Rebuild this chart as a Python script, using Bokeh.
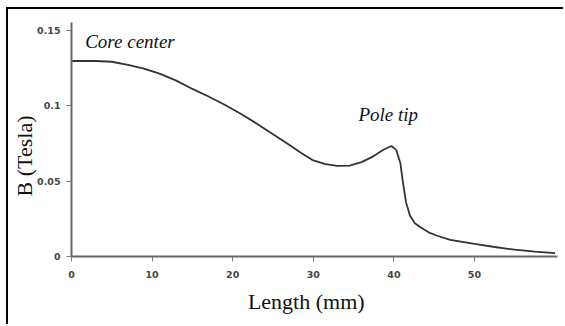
from bokeh.plotting import figure
from bokeh.models import Label, FixedTicker, Range1d
from bokeh.embed import file_html
from bokeh.resources import INLINE

# Data
length_mm = [0, 3, 5, 7, 9, 11, 13, 15, 17, 19, 21, 23, 25, 27, 28.5, 30, 31.5, 33, 34.5,
             36, 37.5, 38.7, 39.7, 40.3, 40.8, 41.1, 41.5, 42, 42.6, 43.3, 44.3, 45.3, 47,
             50, 52.5, 55, 57.5, 60]
b_tesla = [0.1295, 0.1295, 0.1290, 0.127, 0.1245, 0.121, 0.1165, 0.111, 0.106, 0.1005,
           0.0945, 0.088, 0.081, 0.074, 0.0685, 0.0636, 0.0612, 0.0600, 0.0602,
           0.0625, 0.0665, 0.0707, 0.0732, 0.0705, 0.062, 0.050, 0.036, 0.027, 0.022,
           0.0194, 0.016, 0.0139, 0.011, 0.0084, 0.0063, 0.0045, 0.0032, 0.0022]
x_ticks = [0, 10, 20, 30, 40, 50]
y_ticks = [0, 0.05, 0.1, 0.15]
y_tick_labels = {0: "0", 0.05: "0.05", 0.1: "0.1", 0.15: "0.15"}

NB = "\u00a0"

p = figure(width=557, height=317, output_backend="svg", toolbar_location=None,
           x_range=Range1d(0, 60.3), y_range=Range1d(0, 0.155),
           min_border_left=63, min_border_top=13, min_border_right=8, min_border_bottom=70,
           x_axis_label="Length (mm)" + NB * 3, y_axis_label="B (Tesla)" + NB * 6,
           styles={"box-shadow": "-2px -2px 0px 0px black",
                   "margin-left": "8px", "margin-top": "9px"})
p.outline_line_color = None
p.xgrid.visible = False
p.ygrid.visible = False

p.line(length_mm, b_tesla, line_color="#333333", line_width=1.8)

for ax in (p.xaxis[0], p.yaxis[0]):
    ax.axis_line_color = "#666666"
    ax.axis_line_width = 2
    ax.major_tick_line_color = "#777777"
    ax.major_tick_in = 0
    ax.major_tick_out = 5
    ax.minor_tick_line_color = None
    ax.major_label_text_font = "DejaVu Sans"
    ax.major_label_text_font_size = "9.5px"
    ax.major_label_text_font_style = "bold"
    ax.major_label_text_color = "#444444"
    ax.axis_label_text_font = "Liberation Serif"
    ax.axis_label_text_font_size = "22px"
    ax.axis_label_text_font_style = "normal"
    ax.axis_label_text_color = "#111111"

p.xaxis.ticker = FixedTicker(ticks=x_ticks)
p.yaxis.ticker = FixedTicker(ticks=y_ticks)
p.yaxis.major_label_overrides = y_tick_labels
p.xaxis.major_label_standoff = 9
p.yaxis.major_label_standoff = 6
p.xaxis.axis_label_standoff = 8
p.yaxis.axis_label_standoff = -3

# Annotations
p.add_layout(Label(x=1.7, y=0.1355, text="Core center", text_font="Liberation Serif",
                   text_font_style="italic", text_font_size="19px", text_color="#111111"))
p.add_layout(Label(x=35.6, y=0.0868, text="Pole tip", text_font="Liberation Serif",
                   text_font_style="italic", text_font_size="19px", text_color="#111111"))

open("out.html", "w").write(file_html(p, INLINE))
